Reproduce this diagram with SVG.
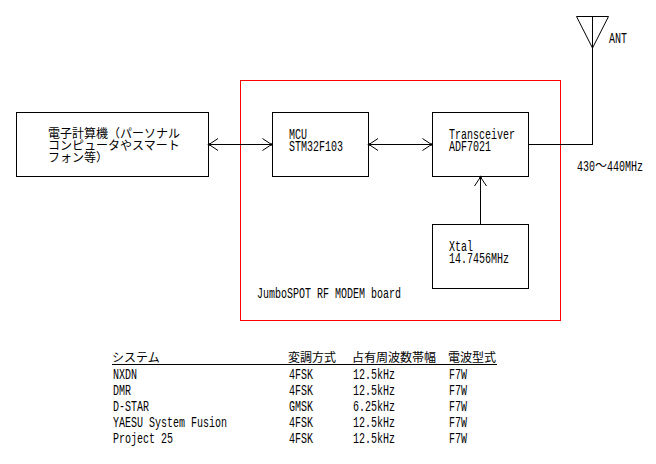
<svg xmlns="http://www.w3.org/2000/svg" width="656" height="464" viewBox="0 0 656 464">
<style>
text{font-family:"Liberation Mono","Noto Sans CJK JP",monospace;font-size:15px;fill:#000}
.j{font-family:"Noto Sans CJK JP","Liberation Mono",sans-serif;font-size:12px}
.b{fill:#fff;stroke:#000;stroke-width:1;shape-rendering:crispEdges}
.c{fill:none;stroke:#000;stroke-width:1}
</style>
<defs>
<marker id="a" markerUnits="userSpaceOnUse" markerWidth="12" markerHeight="14" refX="10" refY="7" orient="auto-start-reverse" overflow="visible">
<path d="M1 1L10 7L1 13" fill="none" stroke="#000"/><circle cx="10" cy="7" r="1.3" fill="#000"/>
</marker>
</defs>
<rect width="656" height="464" fill="#fff"/>
<g id="board"><rect x="240.5" y="80.5" width="320" height="240" fill="none" stroke="#f00" shape-rendering="crispEdges"/>
<text transform="translate(257 298) scale(.6667 1)">JumboSPOT RF MODEM board</text></g>
<g id="computer"><rect class="b" x="16.5" y="112.5" width="192" height="64"/>
<text class="j" x="48" y="138"><tspan x="48">電子計算機（パーソナル</tspan><tspan x="48" dy="12">コンピュータやスマート</tspan><tspan x="48" dy="12">フォン等）</tspan></text></g>
<g id="mcu"><rect class="b" x="272.5" y="112.5" width="96" height="64"/>
<text transform="translate(289 139) scale(.6667 1)"><tspan x="0">MCU</tspan><tspan x="0" dy="12">STM32F103</tspan></text></g>
<g id="transceiver"><rect class="b" x="432.5" y="112.5" width="96" height="64"/>
<text transform="translate(449 139) scale(.6667 1)"><tspan x="0">Transceiver</tspan><tspan x="0" dy="12">ADF7021</tspan></text></g>
<g id="xtal"><rect class="b" x="432.5" y="224.5" width="96" height="64"/>
<text transform="translate(449 251) scale(.6667 1)"><tspan x="0">Xtal</tspan><tspan x="0" dy="12">14.7456MHz</tspan></text></g>
<g id="antenna"><path class="c" d="M576.5 16.5H608.5L592.5 48ZM592.5 16.5V48"/>
<text transform="translate(609 43) scale(.6667 1)">ANT</text></g>
<g id="connectors">
<path class="c" d="M209 144.5H271.5" marker-start="url(#a)" marker-end="url(#a)" shape-rendering="crispEdges"/>
<path class="c" d="M369 144.5H431.5" marker-start="url(#a)" marker-end="url(#a)" shape-rendering="crispEdges"/>
<path class="c" d="M480.5 224V177" marker-end="url(#a)" shape-rendering="crispEdges"/>
<path class="c" d="M529 144.5H592.5V48" shape-rendering="crispEdges"/>
</g>
<text transform="translate(577 171) scale(.6667 1)">430</text>
<text class="j" x="595" y="170">～</text>
<text transform="translate(607 171) scale(.6667 1)">440MHz</text>
<g id="table">
<path d="M112 364.5H497" stroke="#000" shape-rendering="crispEdges"/>
<text class="j" x="112" y="362">システム</text>
<text class="j" x="288" y="362">変調方式</text>
<text class="j" x="352" y="362">占有周波数帯幅</text>
<text class="j" x="448" y="362">電波型式</text>
<text x="113" y="379" textLength="24" lengthAdjust="spacingAndGlyphs">NXDN</text>
<text x="289" y="379" textLength="24" lengthAdjust="spacingAndGlyphs">4FSK</text>
<text x="353" y="379" textLength="42" lengthAdjust="spacingAndGlyphs">12.5kHz</text>
<text x="449" y="379" textLength="18" lengthAdjust="spacingAndGlyphs">F7W</text>
<text x="113" y="395" textLength="18" lengthAdjust="spacingAndGlyphs">DMR</text>
<text x="289" y="395" textLength="24" lengthAdjust="spacingAndGlyphs">4FSK</text>
<text x="353" y="395" textLength="42" lengthAdjust="spacingAndGlyphs">12.5kHz</text>
<text x="449" y="395" textLength="18" lengthAdjust="spacingAndGlyphs">F7W</text>
<text x="113" y="411" textLength="36" lengthAdjust="spacingAndGlyphs">D-STAR</text>
<text x="289" y="411" textLength="24" lengthAdjust="spacingAndGlyphs">GMSK</text>
<text x="353" y="411" textLength="42" lengthAdjust="spacingAndGlyphs">6.25kHz</text>
<text x="449" y="411" textLength="18" lengthAdjust="spacingAndGlyphs">F7W</text>
<text x="113" y="427" textLength="114" lengthAdjust="spacingAndGlyphs">YAESU System Fusion</text>
<text x="289" y="427" textLength="24" lengthAdjust="spacingAndGlyphs">4FSK</text>
<text x="353" y="427" textLength="42" lengthAdjust="spacingAndGlyphs">12.5kHz</text>
<text x="449" y="427" textLength="18" lengthAdjust="spacingAndGlyphs">F7W</text>
<text x="113" y="443" textLength="60" lengthAdjust="spacingAndGlyphs">Project 25</text>
<text x="289" y="443" textLength="24" lengthAdjust="spacingAndGlyphs">4FSK</text>
<text x="353" y="443" textLength="42" lengthAdjust="spacingAndGlyphs">12.5kHz</text>
<text x="449" y="443" textLength="18" lengthAdjust="spacingAndGlyphs">F7W</text>
</g>
</svg>
